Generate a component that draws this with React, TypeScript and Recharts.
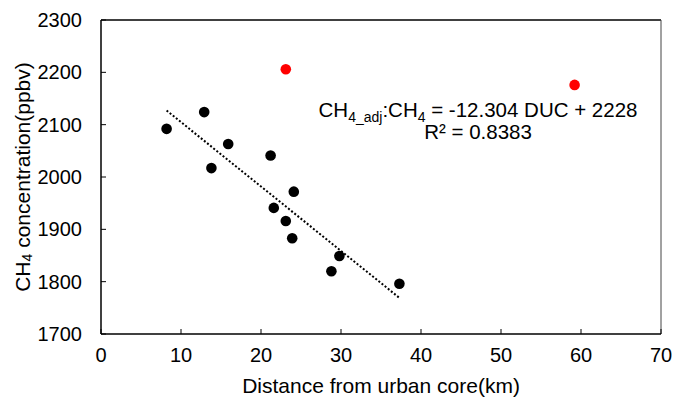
import React from 'react';
import { ScatterChart, Scatter, XAxis, YAxis, ReferenceLine } from 'recharts';

// distance from urban core (km) and CH4 (ppbv)
const siteDistance = [8.2, 12.9, 13.8, 15.9, 21.2, 21.6, 23.1, 23.9, 24.1, 28.8, 29.8, 37.3];
const siteCh4 = [2092, 2124, 2017, 2063, 2041, 1941, 1916, 1883, 1972, 1820, 1849, 1796];

// the two red sites left out of the fit
const outlierDistance = [23.1, 59.2];
const outlierCh4 = [2206, 2176];

// end points of the dotted trend line
const trendDistance = [8.2, 37.3];
const trendCh4 = [2127, 1769];

const xTicks = [0, 10, 20, 30, 40, 50, 60, 70];
const yTicks = [1700, 1800, 1900, 2000, 2100, 2200, 2300];

const zip = (xs: number[], ys: number[]) => xs.map((x, i) => ({ x, y: ys[i] }));

const sites = zip(siteDistance, siteCh4);
const outliers = zip(outlierDistance, outlierCh4);
const trend = zip(trendDistance, trendCh4);

const FONT = '"Liberation Sans", Arial, sans-serif';
const W = 673;
const H = 397;

const dot = (color: string) => (props: any) => (
  <circle cx={props.cx} cy={props.cy} r={5.3} fill={color} />
);

const YTitle = (props: any) => {
  const vb = props.viewBox || {};
  const cx = 22;
  const cy = (vb.y ?? 20) + (vb.height ?? 314) / 2;
  return (
    <text
      x={cx}
      y={cy}
      transform={`rotate(-90 ${cx} ${cy})`}
      textAnchor="middle"
      dominantBaseline="central"
      fontFamily={FONT}
      fontSize={21}
      fill="#000"
    >
      CH<tspan fontSize={14} dy={5}>4</tspan>
      <tspan dy={-5}> concentration(ppbv)</tspan>
    </text>
  );
};

export default function App() {
  return (
    <div style={{ position: 'absolute', left: 0, top: 0, width: W, height: H, background: '#fff' }}>
      <ScatterChart width={W} height={H} margin={{ top: 20, right: 12, left: 0, bottom: 0 }}>
        <XAxis
          type="number"
          dataKey="x"
          domain={[0, 70]}
          ticks={xTicks}
          height={63}
          tickSize={-5}
          tickMargin={19}
          axisLine={{ stroke: '#000', strokeWidth: 1.5 }}
          tickLine={{ stroke: '#000', strokeWidth: 1 }}
          tick={{ fill: '#000', fontSize: 20, fontFamily: FONT }}
          label={{
            value: 'Distance from urban core(km)',
            position: 'insideBottom',
            offset: 4,
            fill: '#000',
            fontSize: 21,
            fontFamily: FONT,
          }}
        />
        <YAxis
          type="number"
          dataKey="y"
          domain={[1700, 2300]}
          ticks={yTicks}
          width={101}
          tickSize={-5}
          tickMargin={24}
          axisLine={{ stroke: '#000', strokeWidth: 1.5 }}
          tickLine={{ stroke: '#000', strokeWidth: 1 }}
          tick={{ fill: '#000', fontSize: 20, fontFamily: FONT }}
          label={{ content: YTitle }}
        />
        <ReferenceLine y={2300} stroke="#000" strokeWidth={1.5} />
        <ReferenceLine x={70} stroke="#444" strokeWidth={1} />
        <Scatter
          data={trend}
          line={{ stroke: '#000', strokeWidth: 2, strokeDasharray: '2 2' }}
          shape={() => null}
          isAnimationActive={false}
        />
        <Scatter data={sites} shape={dot('#000')} isAnimationActive={false} />
        <Scatter data={outliers} shape={dot('#ff0000')} isAnimationActive={false} />
      </ScatterChart>
      <svg
        width={W}
        height={H}
        style={{ position: 'absolute', left: 0, top: 0, pointerEvents: 'none' }}
      >
        <text x={478} y={117} textAnchor="middle" fontFamily={FONT} fontSize={20.5} fill="#000">
          CH<tspan fontSize={14} dy={5}>4_adj</tspan>
          <tspan dy={-5}>:CH</tspan>
          <tspan fontSize={14} dy={5}>4</tspan>
          <tspan dy={-5}> = -12.304 DUC + 2228</tspan>
        </text>
        <text x={478} y={139} textAnchor="middle" fontFamily={FONT} fontSize={20.5} fill="#000">
          R² = 0.8383
        </text>
      </svg>
    </div>
  );
}
